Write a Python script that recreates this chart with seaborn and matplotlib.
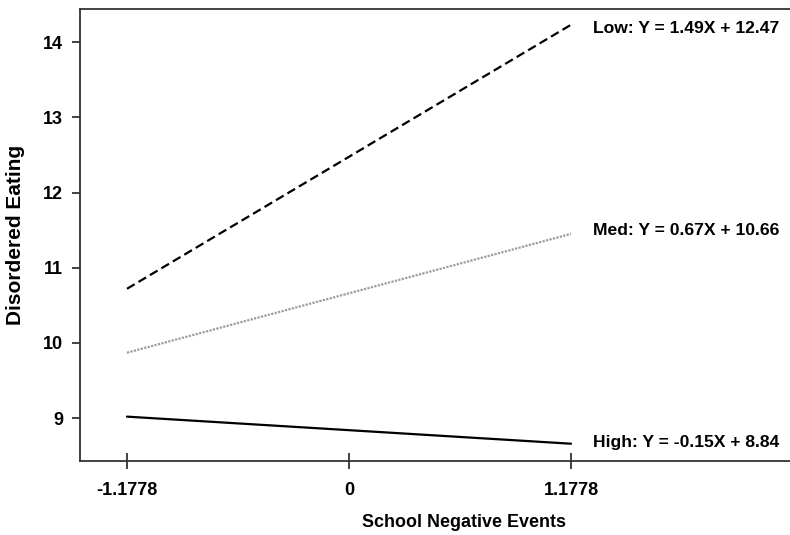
import seaborn as sns
import matplotlib.pyplot as plt
import pandas as pd

# simple slopes: low / med / high moderator
x_points = [-1.1778, 1.1778]
groups = ["Low", "Med", "High"]
low_y = [10.72, 14.23]
med_y = [9.87, 11.45]
high_y = [9.02, 8.66]
equations = ["Low: Y = 1.49X + 12.47", "Med: Y = 0.67X + 10.66", "High: Y = -0.15X + 8.84"]
label_y = [14.18, 11.49, 8.68]
x_ticks = [-1.1778, 0, 1.1778]
x_tick_labels = ["-1.1778", "0", "1.1778"]
y_ticks = [9, 10, 11, 12, 13, 14]

df = pd.DataFrame({
    "x": x_points * 3,
    "y": low_y + med_y + high_y,
    "group": [g for g in groups for _ in x_points],
})

sns.set_style("ticks")
plt.rcParams['font.family'] = ['Liberation Sans', 'DejaVu Sans']
plt.rcParams['text.color'] = "black"
plt.rcParams['axes.labelcolor'] = "black"

fig = plt.figure(figsize=(7.9, 5.35), dpi=100)
# axes runs past the right edge of the figure, like the cropped original
ax = fig.add_axes([0.1013, 0.1383, 0.972, 0.8449])

palette = {"Low": "black", "Med": "#9c9c9c", "High": "black"}
dashes = {"Low": (4, 2), "Med": (1, 0.6), "High": ""}
sns.lineplot(data=df, x="x", y="y", hue="group", style="group",
             palette=palette, dashes=dashes, linewidth=1.6, legend=False, ax=ax)

for eq, yv in zip(equations, label_y):
    ax.text(1.295, yv, eq, fontsize=12.6, fontweight="bold", va="center", ha="left", color="black")

ax.set_xlim(-1.427, 2.647)
ax.set_ylim(8.43, 14.44)
ax.set_xticks(x_ticks)
ax.set_xticklabels(x_tick_labels)
ax.set_yticks(y_ticks)

for s in ax.spines.values():
    s.set_color("#333333")
    s.set_linewidth(1.3)
    s.set_visible(True)

ax.tick_params(axis="x", direction="inout", length=12, width=1.3, pad=9, labelsize=13,
               color="#333333", labelcolor="black")
ax.tick_params(axis="y", direction="out", length=6, width=1.3, pad=6, labelsize=13,
               color="#333333", labelcolor="black")
for lab in ax.get_xticklabels() + ax.get_yticklabels():
    lab.set_fontweight("bold")

ax.set_xlabel("School Negative Events", fontsize=12.9, fontweight="bold", color="black")
ax.set_ylabel("Disordered Eating", fontsize=15, fontweight="bold", color="black")
ax.xaxis.set_label_coords(0.5, -0.117)
ax.yaxis.set_label_coords(-0.072, 0.5)

fig.savefig("out.png", dpi=100)
